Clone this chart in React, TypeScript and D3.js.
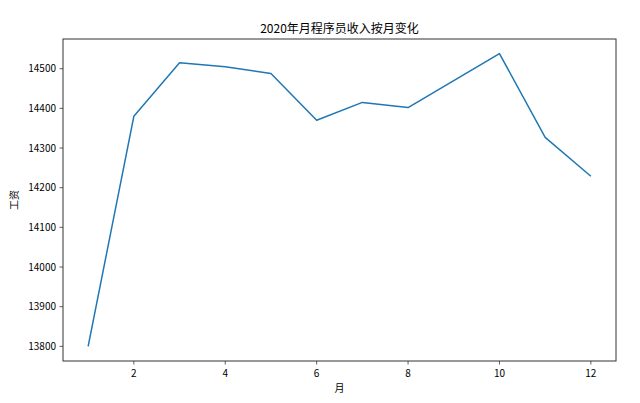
import * as d3 from 'd3'

const months = [1, 2, 3, 4, 5, 6, 7, 8, 9, 10, 11, 12]
const salary = [13800, 14380, 14515, 14505, 14488, 14370, 14415, 14402, 14470, 14538, 14327, 14229]
const xTicks = [2, 4, 6, 8, 10, 12]
const yTicks = [13800, 13900, 14000, 14100, 14200, 14300, 14400, 14500]

const W = 640
const H = 403
const M = { top: 39, right: 24, bottom: 42, left: 63 }
const FONT = '"Noto Sans CJK SC", "DejaVu Sans", sans-serif'

export default function App() {
  const xPad = (d3.max(months)! - d3.min(months)!) * 0.05
  const yMin = d3.min(salary)!
  const yMax = d3.max(salary)!
  const yPad = (yMax - yMin) * 0.05

  const x = d3.scaleLinear()
    .domain([d3.min(months)! - xPad, d3.max(months)! + xPad])
    .range([M.left, W - M.right])
  const y = d3.scaleLinear()
    .domain([yMin - yPad, yMax + yPad])
    .range([H - M.bottom, M.top])

  const line = d3.line<number>()
    .x((_, i) => x(months[i]))
    .y(d => y(d))

  const bottom = H - M.bottom
  const right = W - M.right

  return (
    <svg width={W} height={H} style={{ position: 'absolute', left: 0, top: 0, background: '#fff' }}
      fontFamily={FONT}>
      <rect x={0} y={0} width={W} height={H} fill="#fff" />
      <text x={(M.left + right) / 2} y={M.top - 6} textAnchor="middle" fontSize={12} fill="#000">
        2020年月程序员收入按月变化
      </text>

      <path d={line(salary)!} fill="none" stroke="#1f77b4" strokeWidth={1.5} strokeLinejoin="round" />

      {/* y axis */}
      {yTicks.map(t => (
        <g key={t} transform={`translate(${M.left},${y(t)})`}>
          <line x1={-3.5} x2={0} stroke="#333" strokeWidth={0.8} />
          <text x={-7} dy="0.35em" textAnchor="end" fontSize={10} fill="#000">{t}</text>
        </g>
      ))}
      {/* x axis */}
      {xTicks.map(t => (
        <g key={t} transform={`translate(${x(t)},${bottom})`}>
          <line y1={0} y2={3.5} stroke="#333" strokeWidth={0.8} />
          <text y={16} textAnchor="middle" fontSize={10} fill="#000">{t}</text>
        </g>
      ))}

      <rect x={M.left} y={M.top} width={right - M.left} height={bottom - M.top}
        fill="none" stroke="#333" strokeWidth={1} />

      <text x={(M.left + right) / 2} y={bottom + 31} textAnchor="middle" fontSize={10} fill="#000">月</text>
      <text transform={`translate(18,${(M.top + bottom) / 2}) rotate(-90)`} textAnchor="middle"
        fontSize={10} fill="#000">工资</text>
    </svg>
  )
}
